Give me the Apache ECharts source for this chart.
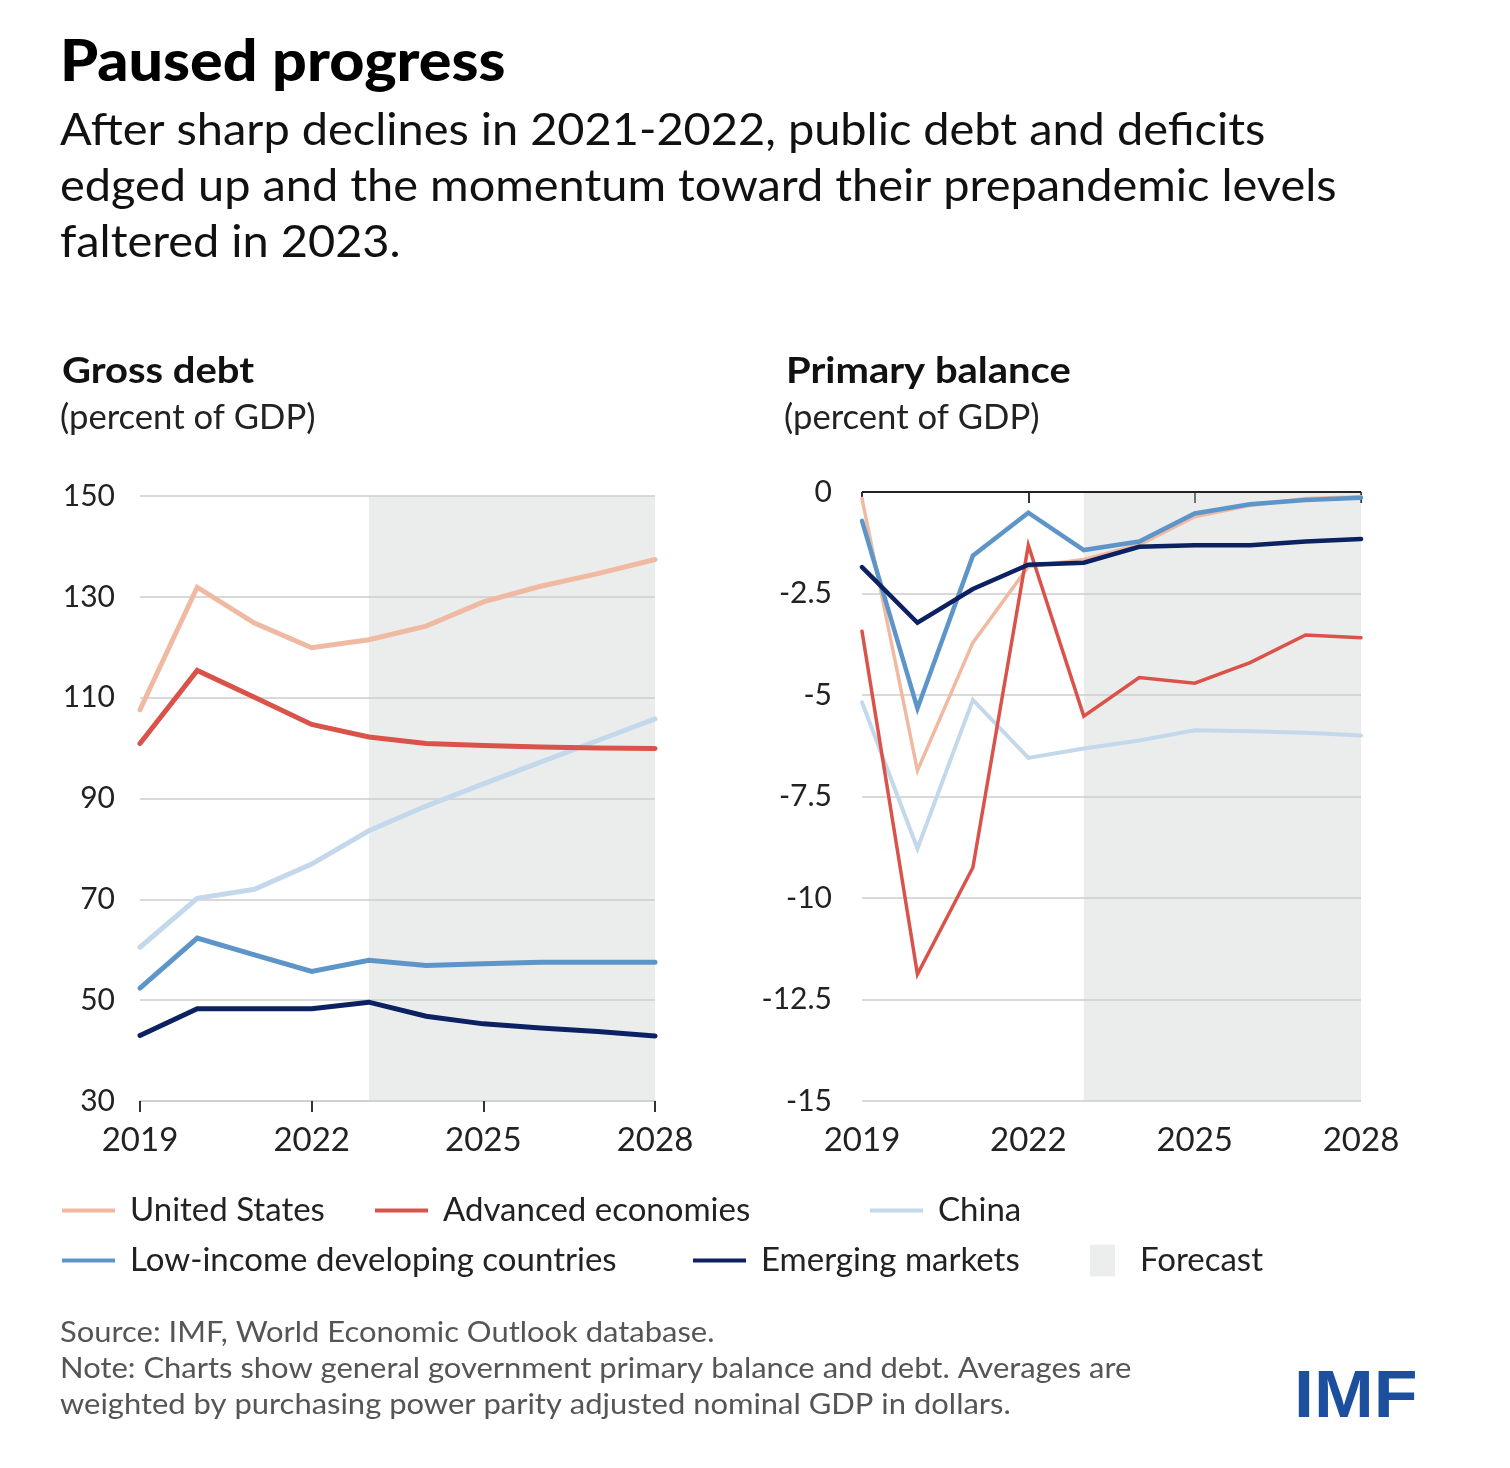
<!DOCTYPE html>
<html>
<head>
<meta charset="utf-8">
<script src="https://cdn.jsdelivr.net/npm/echarts@6/dist/echarts.min.js"></script>
<style>
html,body{margin:0;padding:0;background:#fff;}
#main{width:1510px;height:1468px;}
</style>
</head>
<body>
<div id="main"></div>
<script>
var years = [2019, 2020, 2021, 2022, 2023, 2024, 2025, 2026, 2027, 2028];
var seriesNames = ['United States', 'Advanced economies', 'China', 'Low-income developing countries', 'Emerging markets'];

// Gross debt (percent of GDP)
var debtUS    = [107.6, 131.9, 124.8, 119.9, 121.5, 124.2, 129.0, 132.1, 134.6, 137.4];
var debtAE    = [100.9, 115.4, 110.1, 104.7, 102.2, 100.9, 100.5, 100.2, 100.0, 99.9];
var debtChina = [60.5, 70.2, 72.0, 77.0, 83.6, 88.5, 92.9, 97.2, 101.5, 105.8];
var debtLIDC  = [52.4, 62.3, 59.0, 55.7, 57.9, 56.9, 57.2, 57.5, 57.5, 57.5];
var debtEM    = [43.0, 48.3, 48.3, 48.3, 49.6, 46.8, 45.3, 44.5, 43.8, 42.9];

// Primary balance (percent of GDP)
var pbUS    = [-0.16, -6.86, -3.71, -1.84, -1.66, -1.30, -0.61, -0.33, -0.16, -0.12];
var pbAE    = [-3.43, -11.88, -9.25, -1.31, -5.52, -4.57, -4.71, -4.20, -3.52, -3.59];
var pbChina = [-5.18, -8.78, -5.12, -6.55, -6.32, -6.12, -5.87, -5.89, -5.93, -6.00];
var pbLIDC  = [-0.71, -5.33, -1.57, -0.51, -1.43, -1.22, -0.53, -0.30, -0.20, -0.14];
var pbEM    = [-1.85, -3.22, -2.39, -1.79, -1.74, -1.35, -1.31, -1.31, -1.22, -1.16];

var forecastStart = 2023, forecastEnd = 2028;

var titleText = 'Paused progress';
var subtitleLines = [
  'After sharp declines in 2021-2022, public debt and deficits',
  'edged up and the momentum toward their prepandemic levels',
  'faltered in 2023.'
];
var leftTitle = 'Gross debt', rightTitle = 'Primary balance', unitText = '(percent of GDP)';
var noteLines = [
  'Source: IMF, World Economic Outlook database.',
  'Note: Charts show general government primary balance and debt. Averages are',
  'weighted by purchasing power parity adjusted nominal GDP in dollars.'
];

var colors = {
  'United States': '#f0b9a2',
  'Advanced economies': '#d9534a',
  'China': '#c4d8eb',
  'Low-income developing countries': '#5e95c9',
  'Emerging markets': '#0c2161'
};

function pairs(vals){ return years.map(function(y,i){ return [y, vals[i]]; }); }

var FONT = 'Lato';
var chart = echarts.init(document.getElementById('main'), null, {renderer:'canvas'});

function xAxisDef(gi){
  return {
    type:'value', gridIndex:gi, min:2019, max:2028, interval:3,
    axisLine:{show:true, lineStyle:{color:'#d0d0d0', width:2}},
    axisTick:{show:true, length:11, lineStyle:{color:'#333', width:2}},
    axisLabel:{color:'#222', fontSize:33, fontFamily:FONT, margin:23, formatter:function(v){return String(v);}},
    splitLine:{show:false}
  };
}

function lineSeries(name, data, xi, widthPx, z){
  return {
    name:name, type:'line', xAxisIndex:xi, yAxisIndex:xi,
    data:pairs(data), symbol:'none', smooth:false, z:z,
    lineStyle:{color:colors[name], width:widthPx, cap:'round', join:'miter'},
    itemStyle:{color:colors[name]},
    emphasis:{disabled:true}
  };
}

var shade = 'rgba(206,211,209,0.4)';

var seriesList = [
  Object.assign(lineSeries('China', debtChina, 0, 5, 2), {
    markArea:{silent:true, itemStyle:{color:shade}, data:[[{xAxis:forecastStart},{xAxis:forecastEnd}]]}
  }),
  lineSeries('United States', debtUS, 0, 5, 3),
  lineSeries('Advanced economies', debtAE, 0, 5, 4),
  lineSeries('Low-income developing countries', debtLIDC, 0, 5, 5),
  lineSeries('Emerging markets', debtEM, 0, 5, 6),
  Object.assign(lineSeries('China', pbChina, 1, 4, 2), {
    markArea:{silent:true, itemStyle:{color:shade}, data:[[{xAxis:forecastStart},{xAxis:forecastEnd}]]},
    markLine:{silent:true, symbol:['none','none'], label:{show:false}, lineStyle:{color:'#222', width:2, type:'solid'}, data:[{yAxis:0}], z:10}
  }),
  lineSeries('United States', pbUS, 1, 3.5, 3),
  lineSeries('Advanced economies', pbAE, 1, 3.5, 4),
  lineSeries('Low-income developing countries', pbLIDC, 1, 4.5, 5),
  lineSeries('Emerging markets', pbEM, 1, 4.5, 6),
  {name:'Forecast', type:'bar', xAxisIndex:0, yAxisIndex:0, data:[], itemStyle:{color:'#eceeed'}}
];

function legendDef(name, left, top, icon, w, h, pad){
  return {
    data:[{name:name, icon:icon || 'rect'}], left:left, top:top,
    itemWidth:w || 53, itemHeight:h || 4, padding:0, selectedMode:false,
    textStyle:{fontSize:33, fontFamily:FONT, color:'#222', padding:[0,0,0,pad || 10]}
  };
}

function txt(str, x, yMid, size, weight, color, sx, family){
  return {
    type:'text', x:x, y:yMid, scaleX:sx || 1, silent:true,
    style:{text:str, fontSize:size, fontWeight:weight, fontFamily:family || FONT, fill:color, align:'left', verticalAlign:'middle'}
  };
}

var graphics = [
  txt(titleText, 60, 63, 57, 900, '#000', 1.07),
  txt(subtitleLines[0], 60, 131, 44, 400, '#111', 1.066),
  txt(subtitleLines[1], 60, 187, 44, 400, '#111', 1.066),
  txt(subtitleLines[2], 60, 243, 44, 400, '#111', 1.066),
  txt(leftTitle, 62, 371, 37, 700, '#111', 1.08),
  txt(unitText, 60, 418, 35, 400, '#222', 0.99),
  txt(rightTitle, 786, 371, 37, 700, '#111', 1.08),
  txt(unitText, 784, 418, 35, 400, '#222', 0.99),
  txt(noteLines[0], 60, 1333, 29, 400, '#555', 1.067),
  txt(noteLines[1], 60, 1369, 29, 400, '#555', 1.067),
  txt(noteLines[2], 60, 1405, 29, 400, '#555', 1.067),
  txt('IMF', 1294, 1399, 67, 'bold', '#1d4f9f', 1.07, 'Liberation Sans')
];

var option = {
  backgroundColor:'#fff',
  animation:false,
  textStyle:{fontFamily:FONT},
  graphic:graphics,
  grid:[
    {left:140, top:496, width:515, height:605, containLabel:false},
    {left:862, top:492, width:499, height:609, containLabel:false}
  ],
  xAxis:[xAxisDef(0), xAxisDef(1)],
  yAxis:[
    {type:'value', gridIndex:0, min:30, max:150, interval:20,
     axisLine:{show:false}, axisTick:{show:false},
     axisLabel:{color:'#222', fontSize:30, fontFamily:FONT, margin:25},
     splitLine:{show:true, lineStyle:{color:'#d9d9d9', width:2}}},
    {type:'value', gridIndex:1, min:-15, max:0, interval:2.5,
     axisLine:{show:false}, axisTick:{show:false},
     axisLabel:{color:'#222', fontSize:30, fontFamily:FONT, margin:30},
     splitLine:{show:true, lineStyle:{color:'#d9d9d9', width:2}}}
  ],
  legend:[
    legendDef('United States', 62, 1194),
    legendDef('Advanced economies', 375, 1194),
    legendDef('China', 870, 1194),
    legendDef('Low-income developing countries', 62, 1244),
    legendDef('Emerging markets', 693, 1244),
    legendDef('Forecast', 1090, 1244, 'rect', 25, 32, 20)
  ],
  series:seriesList
};
chart.setOption(option);
</script>
</body>
</html>
